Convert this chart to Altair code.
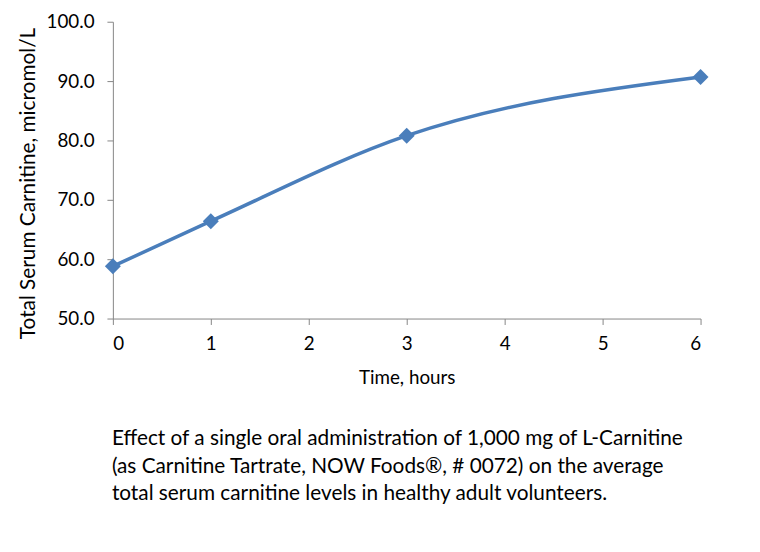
import altair as alt
import pandas as pd

hours = [0, 1, 3, 6]
carnitine = [58.8, 66.4, 80.8, 90.7]
caption_lines = [
    "Effect of a single oral administration of 1,000 mg of L-Carnitine",
    "(as Carnitine Tartrate, NOW Foods\u00ae, # 0072) on the average",
    "total serum carnitine levels in healthy adult volunteers.",
]

df = pd.DataFrame({"hours": hours, "carnitine": carnitine})

FONT = "Lato"
AXIS_COLOR = "#868686"
BLUE = "#4A7EBB"

x = alt.X("hours:Q", scale=alt.Scale(domain=[0, 6], nice=False),
          axis=alt.Axis(title="Time, hours", values=[0, 1, 2, 3, 4, 5, 6], format="d",
                        grid=False, domainColor=AXIS_COLOR, tickColor=AXIS_COLOR,
                        tickSize=6, labelFontSize=19, labelFont=FONT, labelColor="#000",
                        labelPadding=10, titleFontSize=19, titleFont=FONT,
                        titleFontWeight="normal", titleColor="#000", titlePadding=16))
y = alt.Y("carnitine:Q", scale=alt.Scale(domain=[50, 100], nice=False, zero=False),
          axis=alt.Axis(title="Total Serum Carnitine, micromol/L",
                        values=[50, 60, 70, 80, 90, 100], format=".1f",
                        grid=False, domainColor=AXIS_COLOR, tickColor=AXIS_COLOR,
                        tickSize=6, labelFontSize=19, labelFont=FONT, labelColor="#000",
                        labelPadding=13, titleFontSize=21, titleFont=FONT,
                        titleFontWeight="normal", titleColor="#000", titlePadding=8,
                        titleY=163))

line = alt.Chart(df).mark_line(interpolate="monotone", color=BLUE, strokeWidth=3.5).encode(x=x, y=y)
pts = alt.Chart(df).mark_point(shape="diamond", filled=True, size=260, color=BLUE, opacity=1).encode(x=x, y=y)

layers = [line, pts]
cap_y = [428, 456, 483]
for i, txt in enumerate(caption_lines):
    layers.append(
        alt.Chart(pd.DataFrame({"line": [txt]})).mark_text(
            align="left", baseline="alphabetic", font=FONT, fontSize=21, color="#000"
        ).encode(x=alt.value(-1), y=alt.value(cap_y[i]), text="line:N")
    )

chart = alt.layer(*layers).properties(
    width=594, height=300,
    autosize=alt.AutoSizeParams(type="none"),
    padding={"left": 106, "top": 11, "right": 52, "bottom": 225},
).configure_view(stroke=None)

chart.save("out.html", embed_options={"renderer": "svg", "actions": False})
